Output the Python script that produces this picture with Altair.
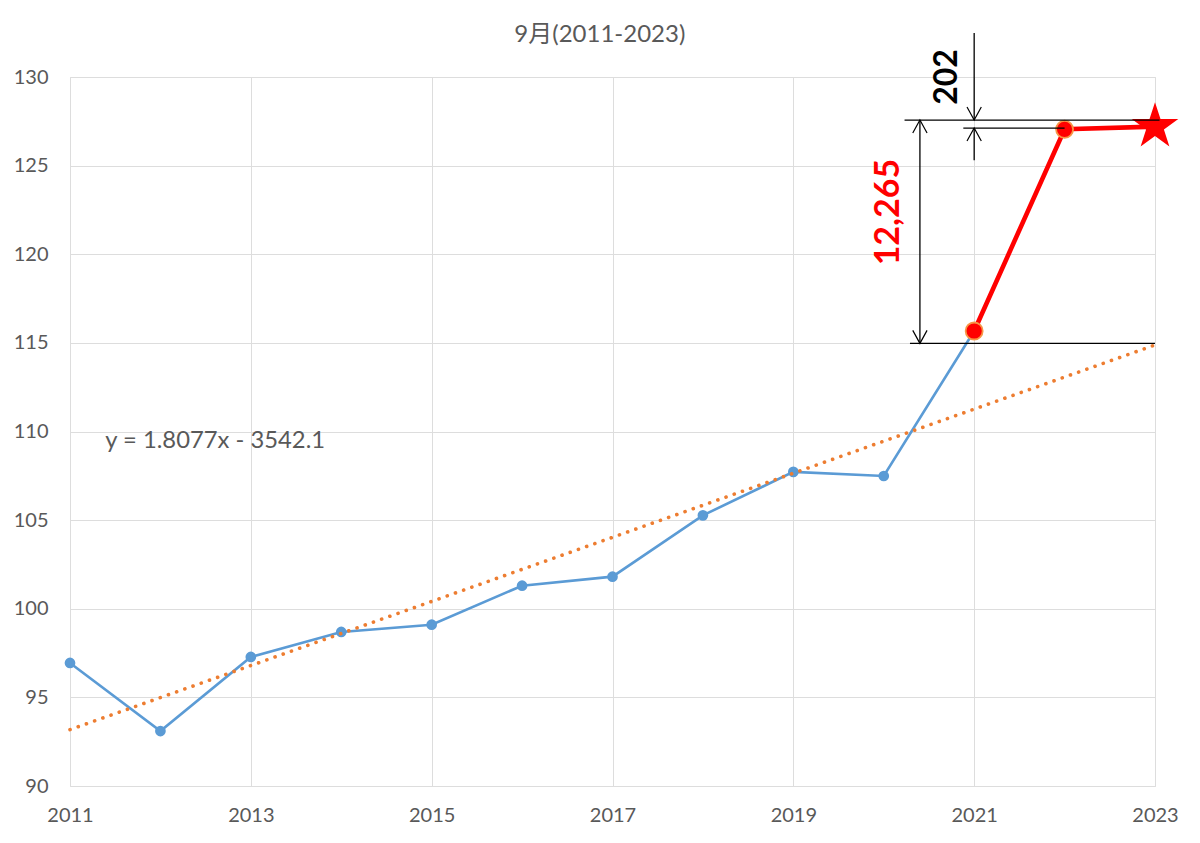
import altair as alt
import pandas as pd

# ---- data ----
years_blue = [2011, 2012, 2013, 2014, 2015, 2016, 2017, 2018, 2019, 2020, 2021]
vals_blue = [96.94, 93.10, 97.28, 98.69, 99.10, 101.30, 101.81, 105.27, 107.72, 107.49, 115.67]

years_red = [2021, 2022]
vals_red = [115.67, 127.05]
year_star = [2023]
val_star = [127.20]

trend_years = [2011, 2023]
trend_vals = [93.18, 114.88]

x_ticks = [2011, 2013, 2015, 2017, 2019, 2021, 2023]
y_ticks = [90, 95, 100, 105, 110, 115, 120, 125, 130]

title_text = "9月(2011-2023)"
equation_text = "y = 1.8077x - 3542.1"
label_small = "202"
label_big = "12,265"

# annotation (dimension) lines, in data units
seg_x1 = [2020.23, 2020.88, 2020.29, 2021.00, 2021.00, 2020.40]
seg_x2 = [2023.05, 2022.00, 2023.00, 2021.00, 2021.00, 2020.40]
seg_y1 = [127.57, 127.12, 114.97, 132.48, 127.12, 127.57]
seg_y2 = [127.57, 127.12, 114.97, 127.57, 125.30, 114.97]

arrow_down_x = [2021.00, 2020.40]
arrow_down_y = [127.57, 114.97]
arrow_up_x = [2021.00, 2020.40]
arrow_up_y = [127.12, 127.57]

FONT = "Lato, 'Noto Sans CJK JP', sans-serif"
GRAY = "#595959"

xs = alt.Scale(domain=[2011, 2023], nice=False, zero=False)
ys = alt.Scale(domain=[90, 130], nice=False, zero=False)
xaxis = alt.Axis(values=x_ticks, format="d", title=None, labelPadding=19, tickSize=0, ticks=False, domain=False,
                 grid=True, labelFlush=False, labelFont=FONT, labelFontSize=20, labelColor=GRAY)
yaxis = alt.Axis(values=y_ticks, title=None, labelPadding=22, tickSize=0, ticks=False, domain=False,
                 grid=True, labelFlush=False, labelFont=FONT, labelFontSize=20, labelColor=GRAY)

X = alt.X("x:Q", scale=xs, axis=xaxis)
Y = alt.Y("y:Q", scale=ys, axis=yaxis)

blue_df = pd.DataFrame({"x": years_blue, "y": vals_blue})
red_df = pd.DataFrame({"x": years_red + year_star, "y": vals_red + val_star})
redpt_df = pd.DataFrame({"x": years_red, "y": vals_red})
star_df = pd.DataFrame({"x": year_star, "y": val_star})
trend_df = pd.DataFrame({"x": trend_years, "y": trend_vals})
seg_df = pd.DataFrame({"x": seg_x1, "x2": seg_x2, "y": seg_y1, "y2": seg_y2})
adown_df = pd.DataFrame({"x": arrow_down_x, "y": arrow_down_y})
aup_df = pd.DataFrame({"x": arrow_up_x, "y": arrow_up_y})

blue_line = alt.Chart(blue_df).mark_line(color="#5B9BD5", strokeWidth=2.6).encode(x=X, y=Y)
blue_pts = alt.Chart(blue_df).mark_circle(color="#5B9BD5", size=115, opacity=1).encode(x=X, y=Y)

trend = alt.Chart(trend_df).mark_line(color="#ED7D31", strokeWidth=3.6, strokeDash=[0.1, 8.6],
                                      strokeCap="round").encode(x=X, y=Y)

red_line = alt.Chart(red_df).mark_line(color="#FF0000", strokeWidth=4.6).encode(x=X, y=Y)
red_pts = alt.Chart(redpt_df).mark_point(shape="circle", filled=True, fill="#FF0000", stroke="#F79646",
                                         strokeWidth=1.8, size=290, opacity=1).encode(x=X, y=Y)
STAR = "M0,-1L0.2245,-0.309L0.9511,-0.309L0.3633,0.118L0.5878,0.809L0,0.382L-0.5878,0.809L-0.3633,0.118L-0.9511,-0.309L-0.2245,-0.309Z"
star = alt.Chart(star_df).mark_point(shape=STAR, filled=True, fill="#FF0000", size=2400, opacity=1,
                                     strokeWidth=0).encode(x=X, y=Y)

segs = alt.Chart(seg_df).mark_rule(color="#000000", strokeWidth=1.3).encode(
    x=X, x2="x2:Q", y=Y, y2="y2:Q")
adown = alt.Chart(adown_df).mark_point(shape="M-0.55,-1L0,0L0.55,-1", filled=False, stroke="#000000",
                                       strokeWidth=1.2, size=676, opacity=1).encode(x=X, y=Y)
aup = alt.Chart(aup_df).mark_point(shape="M-0.55,1L0,0L0.55,1", filled=False, stroke="#000000",
                                   strokeWidth=1.2, size=676, opacity=1).encode(x=X, y=Y)

eq_df = pd.DataFrame({"x": [2011.39], "y": [109.46], "t": [equation_text]})
eq = alt.Chart(eq_df).mark_text(align="left", baseline="middle", font=FONT, fontSize=23.8,
                                color=GRAY).encode(x=X, y=Y, text="t:N")

title_df = pd.DataFrame({"x": [2016.86], "y": [132.37], "t": [title_text]})
title_txt = alt.Chart(title_df).mark_text(align="center", baseline="middle", font=FONT, fontSize=24,
                                          color=GRAY).encode(x=X, y=Y, text="t:N")

small_df = pd.DataFrame({"x": [2020.70], "y": [130.0], "t": [label_small]})
small_txt = alt.Chart(small_df).mark_text(align="center", baseline="middle", angle=270, font=FONT,
                                          fontSize=32, fontWeight="bold", color="#000000").encode(
    x=X, y=Y, text="t:N")
big_df = pd.DataFrame({"x": [2020.06], "y": [122.38], "t": [label_big]})
big_txt = alt.Chart(big_df).mark_text(align="center", baseline="middle", angle=270, font=FONT,
                                      fontSize=34, fontWeight="bold", color="#FF0000").encode(
    x=X, y=Y, text="t:N")

chart = alt.layer(
    blue_line, blue_pts, trend, red_line, red_pts, star, segs, adown, aup, eq, title_txt, small_txt, big_txt
).properties(
    width=1085,
    height=709,
    padding={"left": 62, "top": 69, "right": 37, "bottom": 49},
    autosize=alt.AutoSizeParams(type="none"),
).configure_view(
    stroke=None
).configure_axis(
    gridColor="#D9D9D9", gridWidth=1
).configure(background="#FFFFFF")

chart.save("out.html", embed_options={"renderer": "svg", "actions": False})
